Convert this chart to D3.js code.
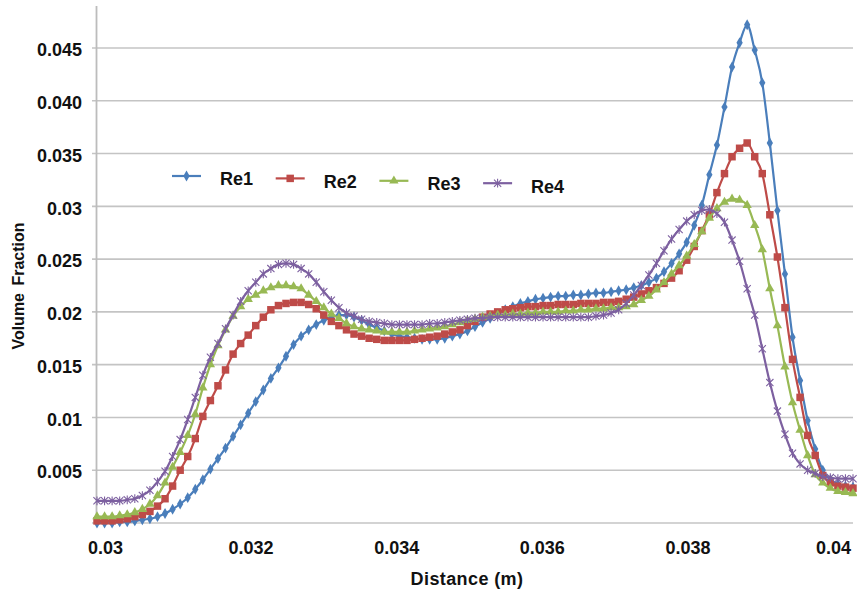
<!DOCTYPE html>
<html>
<head>
<meta charset="utf-8">
<script src="https://cdn.jsdelivr.net/npm/d3@7"></script>
<style>
  html, body { margin: 0; padding: 0; background: #fff; }
  svg { display: block; }
  text { font-family: "Liberation Sans", Arial, sans-serif; font-weight: bold; fill: #111; }
</style>
</head>
<body>
<svg id="chart" width="857" height="594"></svg>
<script>
// ---------------- data ----------------
const xStart = 0.03;
const xStep = 0.0001;
const seriesNames = ["Re1", "Re2", "Re3", "Re4"];

const re1 = [
  0.0000, 0.0000, 0.0000, 0.0001, 0.0001, 0.0002, 0.0003, 0.0004, 0.0006, 0.0009,
  0.0013, 0.0018, 0.0024, 0.0032, 0.0041, 0.0051, 0.0061, 0.0071, 0.0082, 0.0093,
  0.0104, 0.0115, 0.0126, 0.0137, 0.0147, 0.0158, 0.0169, 0.0177, 0.0183, 0.0188,
  0.0192, 0.0195, 0.0197, 0.0197, 0.0195, 0.0192, 0.0188, 0.0185, 0.0182, 0.0179,
  0.0177, 0.0176, 0.0175, 0.0174, 0.0174, 0.0174, 0.0175, 0.0177, 0.0179, 0.0182,
  0.0186, 0.0190, 0.0194, 0.0198, 0.0202, 0.0205, 0.0208, 0.0210, 0.0212, 0.0213,
  0.0214, 0.0215, 0.0215, 0.0216, 0.0216, 0.0217, 0.0218, 0.0218, 0.0219, 0.0220,
  0.0221, 0.0223, 0.0225, 0.0228, 0.0232, 0.0238, 0.0246, 0.0255, 0.0266, 0.0282,
  0.0301, 0.0330, 0.0358, 0.0394, 0.0432, 0.0455, 0.0472, 0.0448, 0.0417, 0.0360,
  0.0296, 0.0236, 0.0176, 0.0135, 0.0097, 0.0070, 0.0050, 0.0041, 0.0037, 0.0035, 0.0034
];
const re2 = [
  0.0002, 0.0002, 0.0002, 0.0003, 0.0004, 0.0006, 0.0008, 0.0011, 0.0016, 0.0023,
  0.0035, 0.0050, 0.0063, 0.0080, 0.0101, 0.0116, 0.0130, 0.0145, 0.0160, 0.0170,
  0.0178, 0.0187, 0.0195, 0.0202, 0.0206, 0.0208, 0.0209, 0.0209, 0.0207, 0.0203,
  0.0197, 0.0191, 0.0187, 0.0183, 0.0179, 0.0177, 0.0175, 0.0174, 0.0173, 0.0173,
  0.0173, 0.0173, 0.0174, 0.0175, 0.0176, 0.0177, 0.0179, 0.0181, 0.0183, 0.0187,
  0.0191, 0.0195, 0.0198, 0.0200, 0.0202, 0.0203, 0.0204, 0.0205, 0.0205, 0.0206,
  0.0206, 0.0207, 0.0207, 0.0207, 0.0208, 0.0208, 0.0208, 0.0209, 0.0209, 0.0210,
  0.0212, 0.0214, 0.0217, 0.0220, 0.0223, 0.0227, 0.0232, 0.0239, 0.0249, 0.0262,
  0.0277, 0.0292, 0.0313, 0.0331, 0.0347, 0.0355, 0.0360, 0.0347, 0.0331, 0.0292,
  0.0252, 0.0204, 0.0155, 0.0119, 0.0083, 0.0064, 0.0045, 0.0038, 0.0035, 0.0034, 0.0033
];
const re3 = [
  0.0006, 0.0006, 0.0006, 0.0007, 0.0008, 0.0010, 0.0013, 0.0018, 0.0026, 0.0038,
  0.0053, 0.0067, 0.0083, 0.0103, 0.0128, 0.0150, 0.0168, 0.0183, 0.0196, 0.0205,
  0.0212, 0.0216, 0.0220, 0.0223, 0.0225, 0.0225, 0.0224, 0.0222, 0.0216, 0.0210,
  0.0204, 0.0198, 0.0194, 0.0189, 0.0186, 0.0184, 0.0183, 0.0182, 0.0181, 0.0181,
  0.0181, 0.0181, 0.0182, 0.0183, 0.0184, 0.0185, 0.0186, 0.0188, 0.0190, 0.0192,
  0.0193, 0.0195, 0.0196, 0.0197, 0.0197, 0.0198, 0.0198, 0.0199, 0.0199, 0.0200,
  0.0200, 0.0200, 0.0201, 0.0201, 0.0202, 0.0202, 0.0203, 0.0203, 0.0204, 0.0204,
  0.0205, 0.0207, 0.0211, 0.0215, 0.0221, 0.0228, 0.0236, 0.0244, 0.0253, 0.0264,
  0.0276, 0.0289, 0.0298, 0.0304, 0.0307, 0.0306, 0.0301, 0.0282, 0.0259, 0.0222,
  0.0187, 0.0148, 0.0114, 0.0088, 0.0064, 0.0046, 0.0038, 0.0033, 0.0030, 0.0029, 0.0028
];
const re4 = [
  0.0021, 0.0021, 0.0021, 0.0021, 0.0022, 0.0023, 0.0026, 0.0031, 0.0039, 0.0049,
  0.0063, 0.0079, 0.0098, 0.0119, 0.0140, 0.0157, 0.0170, 0.0184, 0.0197, 0.0210,
  0.0220, 0.0228, 0.0236, 0.0241, 0.0245, 0.0246, 0.0245, 0.0241, 0.0236, 0.0228,
  0.0219, 0.0211, 0.0204, 0.0199, 0.0196, 0.0193, 0.0191, 0.0190, 0.0189, 0.0188,
  0.0188, 0.0188, 0.0188, 0.0188, 0.0189, 0.0189, 0.0190, 0.0191, 0.0192, 0.0193,
  0.0194, 0.0194, 0.0195, 0.0195, 0.0195, 0.0195, 0.0195, 0.0195, 0.0195, 0.0195,
  0.0195, 0.0195, 0.0195, 0.0195, 0.0195, 0.0195, 0.0196, 0.0197, 0.0199, 0.0202,
  0.0208, 0.0216, 0.0225, 0.0235, 0.0246, 0.0258, 0.0269, 0.0278, 0.0286, 0.0292,
  0.0296, 0.0297, 0.0293, 0.0285, 0.0268, 0.0248, 0.0222, 0.0197, 0.0165, 0.0133,
  0.0106, 0.0084, 0.0066, 0.0056, 0.0050, 0.0047, 0.0044, 0.0043, 0.0042, 0.0042, 0.0042
];

const yTickValues = [0.005, 0.01, 0.015, 0.02, 0.025, 0.03, 0.035, 0.04, 0.045];
const yTickLabels = ["0.005", "0.01", "0.015", "0.02", "0.025", "0.03", "0.035", "0.040", "0.045"];
const xTickValues = [0.03, 0.032, 0.034, 0.036, 0.038, 0.04];
const xTickLabels = ["0.03", "0.032", "0.034", "0.036", "0.038", "0.04"];
const gridValues = [0, 0.005, 0.01, 0.015, 0.02, 0.025, 0.03, 0.035, 0.04, 0.045];

// ---------------- drawing ----------------
const svg = d3.select("#chart");
svg.append("rect").attr("width", 857).attr("height", 594).attr("fill", "#fff");

const x = d3.scaleLinear().domain([0.03, 0.04]).range([97, 853]);
const xLabel = d3.scaleLinear().domain([0.03, 0.04]).range([105, 833]);
const y = d3.scaleLinear().domain([0, 0.045]).range([523, 48]);
const plotTop = 6;

const colors = ["#4a7ebb", "#be4b48", "#98b954", "#7d60a0"];
const allSeries = [re1, re2, re3, re4].map((vals, k) => ({
  name: seriesNames[k],
  color: colors[k],
  points: vals.map((v, i) => ({ x: xStart + i * xStep, y: v }))
}));

// gridlines
svg.append("g").selectAll("line").data(gridValues).join("line")
  .attr("x1", 92).attr("x2", 853)
  .attr("y1", d => y(d)).attr("y2", d => y(d))
  .attr("stroke", "#c4c4c4").attr("stroke-width", 1.6);

// y axis line
svg.append("line")
  .attr("x1", 96.5).attr("x2", 96.5).attr("y1", plotTop).attr("y2", y(0))
  .attr("stroke", "#bcbcbc").attr("stroke-width", 1.8);

// y axis labels
const yAxis = d3.axisLeft(y).tickValues(yTickValues)
  .tickFormat((d, i) => yTickLabels[i]).tickSize(0).tickPadding(0);
const gy = svg.append("g").attr("transform", "translate(82,2)").call(yAxis);
gy.select(".domain").remove();
gy.selectAll("text").attr("font-size", 18).attr("font-family", "Liberation Sans, Arial, sans-serif")
  .attr("font-weight", "bold").attr("fill", "#111");

// x axis labels
const xAxis = d3.axisBottom(xLabel).tickValues(xTickValues)
  .tickFormat((d, i) => xTickLabels[i]).tickSize(0).tickPadding(0);
const gx = svg.append("g").attr("transform", "translate(0,541)").call(xAxis);
gx.select(".domain").remove();
gx.selectAll("text").attr("font-size", 18).attr("font-family", "Liberation Sans, Arial, sans-serif")
  .attr("font-weight", "bold").attr("fill", "#111");

// axis titles
svg.append("text").attr("x", 467).attr("y", 585).attr("text-anchor", "middle")
  .attr("font-size", 18).attr("letter-spacing", 0.4).text("Distance (m)");
svg.append("text").attr("transform", "translate(24,286) rotate(-90)")
  .attr("text-anchor", "middle").attr("font-size", 16).attr("fill", "#161c2c")
  .attr("word-spacing", 3).text("Volume Fraction");

// marker generators
function markerPath(k) {
  if (k === 0) return d3.symbol().type(d3.symbolDiamond).size(34)();
  if (k === 1) return d3.symbol().type(d3.symbolSquare).size(56)();
  if (k === 2) return d3.symbol().type(d3.symbolTriangle).size(38)();
  const r = 3.6;
  return `M${-r},${-r}L${r},${r}M${-r},${r}L${r},${-r}M0,${-r - 0.8}L0,${r + 0.8}`;
}
function styleMarker(sel, k, color) {
  if (k === 3) sel.attr("fill", "none").attr("stroke", color).attr("stroke-width", 1.1);
  else sel.attr("fill", color).attr("stroke", "none");
}

const line = d3.line().x(d => x(d.x)).y(d => y(d.y)).curve(d3.curveMonotoneX);

allSeries.forEach((s, k) => {
  const g = svg.append("g");
  g.append("path").datum(s.points).attr("d", line)
    .attr("fill", "none").attr("stroke", s.color).attr("stroke-width", 2.2)
    .attr("stroke-linejoin", "round");
  const m = g.selectAll("path.mk").data(s.points).join("path").attr("class", "mk")
    .attr("d", markerPath(k))
    .attr("transform", d => `translate(${x(d.x)},${y(d.y)})`);
  styleMarker(m, k, s.color);
});

// legend
const legend = svg.append("g");
allSeries.forEach((s, k) => {
  const x0 = 172 + k * 103.7;
  const yl = 176 + k * 2.4;
  const g = legend.append("g");
  g.append("line").attr("x1", x0).attr("x2", x0 + 29).attr("y1", yl).attr("y2", yl)
    .attr("stroke", s.color).attr("stroke-width", 2.2);
  const m = g.append("path").attr("d", markerPath(k))
    .attr("transform", `translate(${x0 + 14.5},${yl})`);
  styleMarker(m, k, s.color);
  g.append("text").attr("x", x0 + 48).attr("y", yl + 3).attr("dy", "0.35em")
    .attr("font-size", 18).text(s.name);
});
</script>
</body>
</html>
